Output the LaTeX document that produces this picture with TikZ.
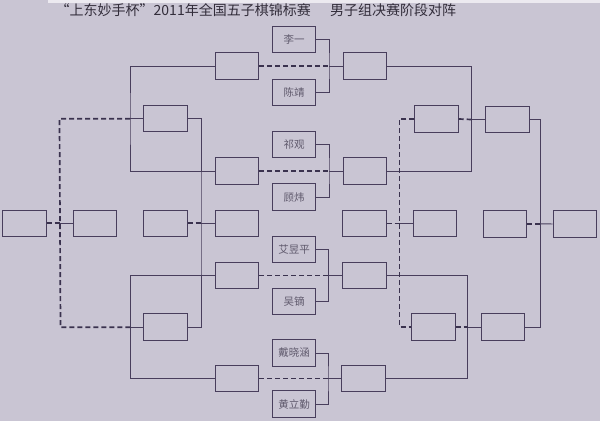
\documentclass[tikz,border=0pt]{standalone}
\usepackage{fontspec}
\newfontfamily\cjk{Noto Sans CJK SC}
\definecolor{bg}{RGB}{201,197,211}
\definecolor{linec}{RGB}{72,62,92}
\definecolor{dashc}{RGB}{58,50,78}
\definecolor{namec}{RGB}{95,89,108}
\definecolor{titlec}{RGB}{50,45,58}
\definecolor{strip}{RGB}{236,234,240}
\tikzset{
  box/.style={draw=linec, line width=0.95pt, minimum width=43.5pt, minimum height=26.5pt, inner sep=0pt, font=\cjk\fontsize{10.5}{10.5}\selectfont, text=namec},
  conn/.style={draw=linec, line width=0.95pt},
  dsh/.style={draw=dashc, line width=1.7pt, dash pattern=on 5pt off 3pt}
}
\begin{document}
\begin{tikzpicture}[x=1pt,y=-1pt]
\useasboundingbox (0,0) rectangle (600,421);
\fill[bg] (0,0) rectangle (600,421);
\fill[strip] (48,0) rectangle (600,2.5);
% title
\node[anchor=base west, inner sep=0pt, text=titlec, font=\cjk\fontsize{14}{14}\selectfont] (t1) at (55.5,15.5) {“上东妙手杯”2011年全国五子棋锦标赛};
\node[anchor=base west, inner sep=0pt, text=titlec, font=\cjk\fontsize{14}{14}\selectfont] (t2) at (330,15.5) {男子组决赛阶段对阵};
% names
\node[box] (n1) at (294,39.3) {李一};
\node[box] (n2) at (294,92.3) {陈靖};
\node[box] (n3) at (294,144.5) {祁观};
\node[box] (n4) at (294,197.2) {顾炜};
\node[box] (n5) at (294,249.4) {艾昱平};
\node[box] (n6) at (294,301.3) {吴镝};
\node[box] (n7) at (294,353) {戴晓涵};
\node[box] (n8) at (294,404) {黄立勤};
% left columns
\node[box] (A) at (24.5,223.3) {};
\node[box] (B) at (95,223.3) {};
\node[box] (L2a) at (165.5,118.7) {};
\node[box] (C) at (165.5,223.3) {};
\node[box] (L2b) at (165.5,327.2) {};
\node[box] (L1a) at (236.8,66) {};
\node[box] (L1b) at (236.8,171) {};
\node[box] (D) at (236.8,223.3) {};
\node[box] (L1c) at (236.8,275.5) {};
\node[box] (L1d) at (236.8,378.5) {};
% right columns
\node[box] (R1a) at (364.8,66) {};
\node[box] (R1b) at (364.8,171) {};
\node[box] (RD) at (364.5,223.5) {};
\node[box] (R1c) at (364.5,275.5) {};
\node[box] (R1d) at (363.5,378.5) {};
\node[box] (R2pa) at (436.5,119) {};
\node[box] (RM) at (434.8,223.5) {};
\node[box] (R2pb) at (433.3,327.2) {};
\node[box] (R2a) at (507.5,119.5) {};
\node[box] (RM2) at (505,223.8) {};
\node[box] (R2b) at (503,327.2) {};
\node[box] (FR) at (574.8,224) {};
% junctions
\coordinate (p1) at (329,66);
\coordinate (p2) at (329,171);
\coordinate (p3) at (328.5,275.5);
\coordinate (p4) at (328,378.5);
\coordinate (q1) at (130,118.7);
\coordinate (q2) at (130.5,327.2);
\coordinate (s1) at (59.5,118.7);
\coordinate (s0) at (60,223.3);
\coordinate (s2) at (60.5,327.2);
\coordinate (r0) at (201,223.3);
\coordinate (t1j) at (471.5,119.5);
\coordinate (t2j) at (467.7,327.2);
\coordinate (u0) at (399.5,223.5);
\coordinate (v0) at (540.5,223.8);
% pair brackets
\draw[conn] (n1.east) -| (p1) |- (n2.east);
\draw[conn] (n3.east) -| (p2) |- (n4.east);
\draw[conn] (n5.east) -| (p3) |- (n6.east);
\draw[conn] (n7.east) -| (p4) |- (n8.east);
\draw[conn] (p1) -- (R1a.west);
\draw[conn] (p2) -- (R1b.west);
\draw[conn] (p3) -- (R1c.west);
\draw[conn] (p4) -- (R1d.west);
\draw[dsh] (L1a.east) -- (p1);
\draw[dsh] (L1b.east) -- (p2);
\draw[dsh] (L1c.east) -- (p3);
\draw[dsh] (L1d.east) -- (p4);
% left brackets
\draw[conn] (L1a.west) -| (q1) |- (L1b.west);
\draw[conn] (L1c.west) -| (q2) |- (L1d.west);
\draw[conn] (q1) -- (L2a.west);
\draw[conn] (q2) -- (L2b.west);
\draw[dsh] (q1) -- (s1) -- (s2) -- (q2);
\draw[conn] (s0) -- (B.west);
\draw[dsh] (A.east) -- (s0);
\draw[conn] (L2a.east) -| (r0) |- (L2b.east);
\draw[conn] (r0) -- (D.west);
\draw[dsh] (C.east) -- (r0);
% right brackets
\draw[conn] (R1a.east) -| (t1j) |- (R1b.east);
\draw[conn] (R1c.east) -| (t2j) |- (R1d.east);
\draw[conn] (t1j) -- (R2a.west);
\draw[conn] (t2j) -- (R2b.west);
\draw[dsh] (R2pa.east) -- (t1j);
\draw[dsh] (R2pb.east) -- (t2j);
\draw[dsh] (R2pa.west) -| (u0) |- (R2pb.west);
\draw[conn] (u0) -- (RM.west);
\draw[dsh] (RD.east) -- (u0);
\draw[conn] (R2a.east) -| (v0) |- (R2b.east);
\draw[conn] (v0) -- (FR.west);
\draw[dsh] (RM2.east) -- (v0);
\end{tikzpicture}
\end{document}
